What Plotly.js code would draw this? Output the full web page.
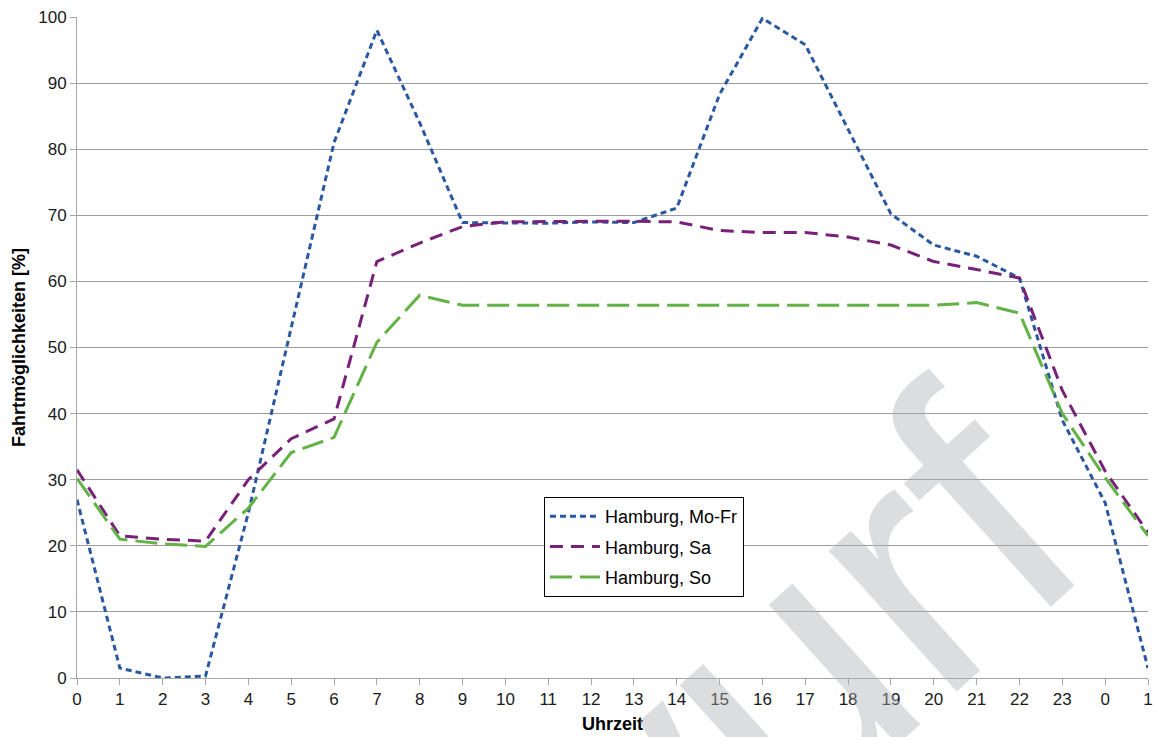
<!DOCTYPE html>
<html>
<head>
<meta charset="utf-8">
<script src="https://cdn.plot.ly/plotly-3.0.1.min.js"></script>
<style>
  html, body { margin: 0; padding: 0; background: #ffffff; }
  #chart { width: 1155px; height: 737px; }
</style>
</head>
<body>
<div id="chart"></div>
<script>
// Category labels (hours)
const hourLabels = ['0','1','2','3','4','5','6','7','8','9','10','11','12','13','14','15','16','17','18','19','20','21','22','23','0','1'];

// Series values [%]
const moFr = [27, 1.5, 0, 0.3, 25, 53, 81, 98, 84, 68.9, 68.9, 68.8, 69, 68.9, 71.1, 88.3, 99.8, 95.8, 83, 70.2, 65.5, 63.8, 60.5, 39, 26.5, 1.5];
const sa   = [31.5, 21.5, 21, 20.7, 30, 36.2, 39.2, 63, 65.8, 68.3, 69, 69.1, 69.1, 69.1, 69, 67.7, 67.4, 67.4, 66.7, 65.5, 63, 61.8, 60.5, 43.5, 31.3, 22];
const so   = [30.2, 21, 20.3, 19.9, 25.7, 34.1, 36.4, 50.8, 57.9, 56.4, 56.4, 56.4, 56.4, 56.4, 56.4, 56.4, 56.4, 56.4, 56.4, 56.4, 56.4, 56.8, 55.2, 40, 30.3, 21.5];

const seriesNames = ['Hamburg, Mo-Fr', 'Hamburg, Sa', 'Hamburg, So'];
const yTicks = [0, 10, 20, 30, 40, 50, 60, 70, 80, 90, 100];

const xIdx = hourLabels.map((_, i) => i);

const traces = [
  { x: xIdx, y: moFr, name: seriesNames[0], legendgroup: 'g1', mode: 'lines', type: 'scatter',
    line: { color: '#2b58a3', width: 3, dash: '6px,4px' } },
  { x: xIdx, y: sa, name: seriesNames[1], legendgroup: 'g2', mode: 'lines', type: 'scatter',
    line: { color: '#772278', width: 3, dash: '13px,8px' } },
  { x: xIdx, y: so, name: seriesNames[2], legendgroup: 'g3', mode: 'lines', type: 'scatter',
    line: { color: '#62b246', width: 3, dash: '22px,8px' } }
];

const FONT = 'Liberation Sans, Arial, sans-serif';

const layout = {
  width: 1155, height: 737,
  margin: { l: 77, r: 7, t: 17, b: 59 },
  paper_bgcolor: '#ffffff', plot_bgcolor: '#ffffff',
  font: { family: FONT, color: '#1a1a1a', size: 17 },
  showlegend: true,
  legend: {
    x: 0.436, y: 0.2738, xanchor: 'left', yanchor: 'top',
    bgcolor: '#ffffff', bordercolor: '#000000', borderwidth: 1,
    font: { size: 18, color: '#000000', family: FONT },
    traceorder: 'grouped', tracegroupgap: 4,
    itemwidth: 50
  },
  xaxis: {
    range: [0, hourLabels.length - 1],
    tickmode: 'array', tickvals: xIdx, ticktext: hourLabels,
    showgrid: false, zeroline: false,
    showline: true, linecolor: '#a6a6a6', linewidth: 1,
    ticks: 'outside', ticklen: 6, tickcolor: '#a6a6a6',
    tickfont: { size: 17, color: '#1a1a1a', family: FONT },
    title: { text: 'Uhrzeit', font: { size: 18, color: '#000000', family: FONT, weight: 'bold' }, standoff: 8 },
    fixedrange: true
  },
  yaxis: {
    range: [0, 100],
    tickmode: 'array', tickvals: yTicks,
    showgrid: true, gridcolor: '#9c9c9c', gridwidth: 1,
    zeroline: false,
    showline: true, linecolor: '#a6a6a6', linewidth: 1,
    ticks: 'outside', ticklen: 6, tickcolor: '#a6a6a6',
    tickfont: { size: 17, color: '#1a1a1a', family: FONT },
    title: { text: 'Fahrtmöglichkeiten [%]', font: { size: 18, color: '#000000', family: FONT, weight: 'bold' }, standoff: 7 },
    fixedrange: true
  },
  annotations: [{
    text: 'Entwurf', xref: 'paper', yref: 'paper',
    x: 0.4557, y: -0.2995, xanchor: 'center', yanchor: 'middle',
    textangle: -42, showarrow: false,
    font: { family: FONT, size: 360, color: 'rgba(170,173,178,0.42)' }
  }]
};

Plotly.newPlot('chart', traces, layout, { staticPlot: true, displayModeBar: false });
</script>
</body>
</html>
